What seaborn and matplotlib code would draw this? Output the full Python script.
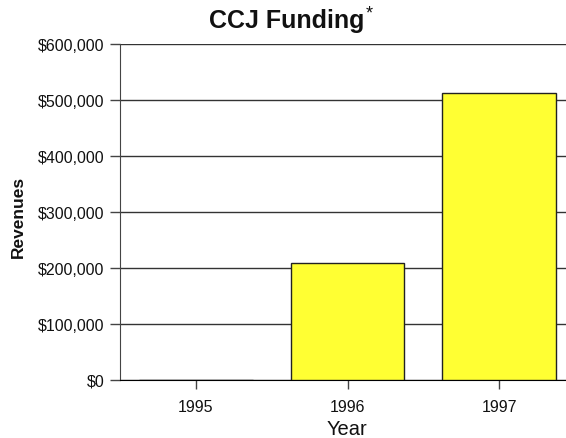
import numpy as np
import pandas as pd
import matplotlib
matplotlib.use("Agg")
import matplotlib.pyplot as plt
from matplotlib.ticker import FuncFormatter
import seaborn as sns

years = ["1995", "1996", "1997"]
revenues = [0, 209000, 513000]
y_ticks = [0, 100000, 200000, 300000, 400000, 500000, 600000]

df = pd.DataFrame({"Year": years, "Revenues": revenues})

sns.set_style("white")
plt.rcParams["font.family"] = ["Liberation Sans", "DejaVu Sans"]

fig = plt.figure(figsize=(5.66, 4.39), dpi=100)
ax = fig.add_axes([120 / 566, 1 - 381 / 439, 1 - 120 / 566, (381 - 45) / 439])

sns.barplot(data=df, x="Year", y="Revenues", color="#FFFF33", saturation=1,
            width=0.75, edgecolor="#222222", linewidth=1, ax=ax, zorder=3)

ax.set_ylim(0, 600000)
ax.set_xlim(-0.5, 2.44)
ax.set_yticks(y_ticks)
ax.yaxis.set_major_formatter(FuncFormatter(lambda v, p: f"${v:,.0f}"))
ax.grid(axis="y", color="#333333", linewidth=1, zorder=0)
ax.set_axisbelow(True)

for s in ["top", "right"]:
    ax.spines[s].set_visible(False)
ax.spines["left"].set_color("#444444")
ax.spines["bottom"].set_color("black")

ax.tick_params(axis="y", direction="out", length=7, width=1, color="#444444",
               labelsize=11.5, pad=4, left=True, labelcolor="#111111")
ax.tick_params(axis="x", direction="out", length=6.5, width=1, color="#444444",
               labelsize=11.5, pad=7, bottom=True, labelcolor="#111111")

ax.set_xlabel("")
ax.set_ylabel("")
fig.text(347 / 566, 1 - 430 / 439, "Year", fontsize=14.5,
         ha="center", va="center", color="#111111")
fig.text(18 / 566, 1 - 217 / 439, "Revenues", rotation=90, fontsize=12.5,
         fontweight="bold", ha="center", va="center", color="#111111")

fig.text(287 / 566, 1 - 21 / 439, "CCJ Funding", fontsize=18, fontweight="bold",
         ha="center", va="center", color="#111111")
fig.text(366 / 566, 1 - 14 / 439, "*", fontsize=13, ha="left", va="center",
         color="#111111")

fig.savefig("out.png", dpi=100)
